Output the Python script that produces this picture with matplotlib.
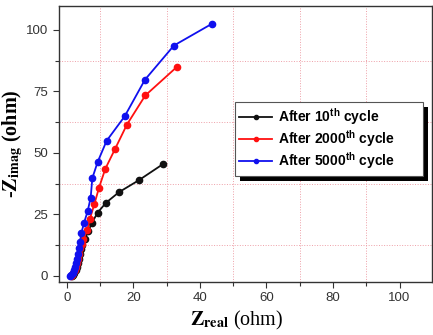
import matplotlib
matplotlib.use("Agg")
import matplotlib.pyplot as plt
import matplotlib.patheffects as pe

# Nyquist data (ohm)
x_10 = [1.5, 1.9, 2.3, 2.7, 3.1, 3.4, 3.7, 4.0, 4.3, 4.7, 5.5, 6.5, 7.6, 9.3, 11.8, 15.7, 21.6, 28.8]
y_10 = [0.0, 0.5, 1.3, 2.4, 3.7, 5.2, 7.0, 9.0, 10.8, 12.5, 15.1, 18.2, 21.6, 25.7, 29.7, 34.0, 38.8, 45.3]

x_2000 = [1.2, 1.6, 2.0, 2.4, 2.8, 3.1, 3.4, 3.7, 4.1, 4.5, 5.0, 6.2, 7.0, 8.3, 9.7, 11.6, 14.5, 18.1, 23.6, 33.0]
y_2000 = [0.0, 0.5, 1.3, 2.4, 3.7, 5.2, 7.0, 9.0, 11.3, 13.0, 15.1, 18.8, 23.3, 29.1, 35.8, 43.5, 51.5, 61.5, 73.3, 84.8]

x_5000 = [1.0, 1.4, 1.8, 2.2, 2.5, 2.8, 3.1, 3.4, 3.7, 4.0, 4.4, 5.2, 6.3, 7.2, 7.7, 9.3, 12.0, 17.4, 23.5, 32.2, 43.7]
y_5000 = [0.0, 0.5, 1.3, 2.4, 3.7, 5.2, 7.0, 9.0, 11.3, 13.8, 17.4, 21.5, 26.3, 31.8, 39.7, 46.3, 54.9, 64.8, 79.7, 93.6, 102.5]

labels = [r"After 10$^{\mathbf{th}}$ cycle",
          r"After 2000$^{\mathbf{th}}$ cycle",
          r"After 5000$^{\mathbf{th}}$ cycle"]
colors = ["#111111", "#ff1010", "#1010ee"]

plt.rcParams["font.family"] = ["Liberation Sans", "DejaVu Sans"]
plt.rcParams["mathtext.fontset"] = "custom"
plt.rcParams["mathtext.rm"] = "Liberation Sans"
plt.rcParams["mathtext.bf"] = "Liberation Sans:bold"

fig = plt.figure(figsize=(4.33, 3.35), dpi=100)
ax = fig.add_axes([0.1356, 0.159, 0.861, 0.824])

series = [(x_10, y_10), (x_2000, y_2000), (x_5000, y_5000)]
for (xs, ys), c, lab in zip(series, colors, labels):
    ax.plot(xs, ys, "-o", color=c, lw=1.3, ms=4.5, mec=c, mfc=c, label=lab)

ax.set_xlim(-2.4, 109.6)
ax.set_ylim(-2.4, 109.8)
ax.set_xticks([0, 20, 40, 60, 80, 100])
ax.set_yticks([0, 25, 50, 75, 100])
ax.set_xticks([10, 30, 50, 70, 90], minor=True)
ax.set_yticks([12.5, 37.5, 62.5, 87.5], minor=True)
ax.grid(True, which="minor", color="#eea0a8", ls=":", lw=0.7)
ax.grid(False, which="major")
ax.tick_params(which="both", direction="out", labelsize=9.5, colors="#333333", width=0.8)
ax.tick_params(which="major", length=4)
ax.tick_params(which="minor", length=3)
for s in ax.spines.values():
    s.set_color("#333333")
    s.set_linewidth(1.0)

serif = {"family": "Liberation Serif", "size": 14.5}
ax.set_xlabel(r"$\mathbf{Z}_{\mathbf{real}}$ (ohm)", fontdict=serif)
ax.set_ylabel(r"-$\mathbf{Z}_{\mathbf{imag}}$ (ohm)", fontdict=serif, fontweight="bold")
ax.xaxis.label.set_math_fontfamily("stix")
ax.yaxis.label.set_math_fontfamily("stix")
ax.xaxis.set_label_coords(0.478, -0.098)
ax.yaxis.set_label_coords(-0.09, 0.5)

leg = ax.legend(loc="upper left", bbox_to_anchor=(0.472, 0.652, 0.504, 0.0), mode="expand",
                borderaxespad=0, prop={"weight": "bold", "size": 10}, fancybox=False,
                edgecolor="#555555", framealpha=1, handlelength=2.4, labelspacing=0.08,
                borderpad=0.32, handletextpad=0.4)
leg.get_frame().set_linewidth(0.8)
leg.get_frame().set_path_effects([pe.withSimplePatchShadow(offset=(4, -4), shadow_rgbFace="k", alpha=1.0)])
for line in leg.get_lines():
    line.set_markersize(3)

fig.savefig("out.png", dpi=100)
